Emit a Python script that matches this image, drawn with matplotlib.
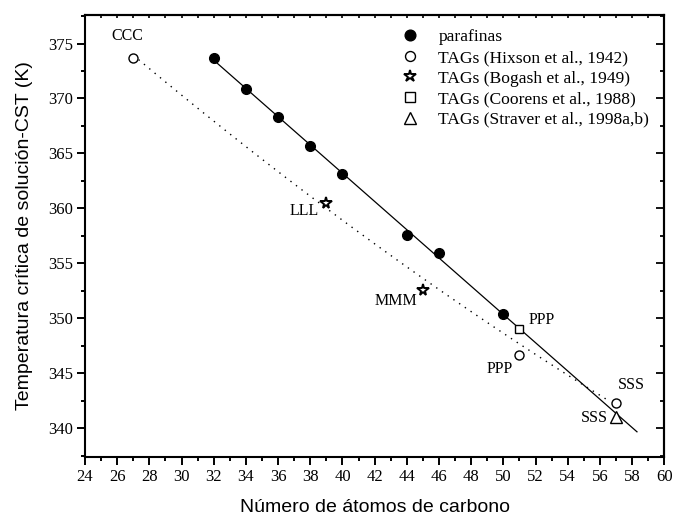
import numpy as np
import matplotlib
matplotlib.use("Agg")
import matplotlib.pyplot as plt
from matplotlib.ticker import MultipleLocator

# parafinas
paraf_c = [32, 34, 36, 38, 40, 44, 46, 50]
paraf_t = [373.7, 370.9, 368.3, 365.7, 363.1, 357.6, 355.9, 350.4]

# TAGs by source
hixson_c = [27, 51, 57]
hixson_t = [373.7, 346.7, 342.3]
bogash_c = [39, 45]
bogash_t = [360.5, 352.6]
coorens_c = [51]
coorens_t = [349.0]
straver_c = [57]
straver_t = [341.0]

# dotted TAG trend line
tag_line_c = [27.0, 32.1, 37.4, 45.7, 48.5, 56.6]
tag_line_t = [373.7, 368.1, 362.0, 352.7, 349.9, 342.6]

# point labels
labels = ["CCC", "LLL", "MMM", "PPP", "PPP", "SSS", "SSS"]
label_c = [26.6, 37.6, 43.35, 52.35, 49.76, 57.98, 55.66]
label_t = [375.7, 359.75, 351.6, 349.85, 345.4, 343.9, 340.9]

serif = ["Liberation Serif", "DejaVu Serif"]
sans = ["Liberation Sans", "DejaVu Sans"]
plt.rcParams['font.family'] = serif

fig = plt.figure(figsize=(6.75, 5.22), dpi=100)
ax = fig.add_axes([0.1259, 0.1251, 0.8583, 0.8462])

# linear fit for paraffins
p = np.polyfit(paraf_c, paraf_t, 1)
xf = np.array([32, 58.3])
ax.plot(xf, np.polyval(p, xf), color='black', lw=0.9, zorder=2)

# smooth fit through the dotted line readings
q = np.polyfit(tag_line_c, tag_line_t, 2)
xq = np.linspace(tag_line_c[0], tag_line_c[-1], 200)
ax.plot(xq, np.polyval(q, xq), color='black', lw=1.0, ls=(0, (1, 4)), zorder=2)

ax.plot(paraf_c, paraf_t, 'o', color='black', ms=7, ls='none', label='parafinas', zorder=3)
ax.plot(hixson_c, hixson_t, 'o', mfc='white', mec='black', mew=1.0, ms=6.5, ls='none',
        label='TAGs (Hixson et al., 1942)', zorder=3)
ax.plot(bogash_c, bogash_t, '*', mfc='white', mec='black', mew=1.4, ms=8.5, ls='none',
        label='TAGs (Bogash et al., 1949)', zorder=3)
ax.plot(coorens_c, coorens_t, 's', mfc='white', mec='black', mew=1.0, ms=6, ls='none',
        label='TAGs (Coorens et al., 1988)', zorder=3)
ax.plot(straver_c, straver_t, '^', mfc='white', mec='black', mew=1.0, ms=8, ls='none',
        label='TAGs (Straver et al., 1998a,b)', zorder=3)

for lab, cx, ty in zip(labels, label_c, label_t):
    ax.text(cx, ty, lab, fontsize=11.5, ha='center', va='center')

ax.set_xlim(24, 60)
ax.set_ylim(337.4, 377.6)
ax.xaxis.set_major_locator(MultipleLocator(2))
ax.xaxis.set_minor_locator(MultipleLocator(1))
ax.yaxis.set_major_locator(MultipleLocator(5))
ax.yaxis.set_minor_locator(MultipleLocator(2.5))
ax.tick_params(which='major', direction='out', length=6, width=1.4, labelsize=12, pad=2.5)
ax.tick_params(which='minor', direction='out', length=3, width=1.4)
for s in ax.spines.values():
    s.set_linewidth(1.5)

# top and right inner ticks
top = ax.secondary_xaxis('top')
top.xaxis.set_major_locator(MultipleLocator(1))
top.tick_params(direction='in', length=2.3, width=1.2, labeltop=False)
right = ax.secondary_yaxis('right')
right.yaxis.set_major_locator(MultipleLocator(5))
right.yaxis.set_minor_locator(MultipleLocator(2.5))
right.tick_params(which='major', direction='in', length=5.5, width=1.3, labelright=False)
right.tick_params(which='minor', direction='in', length=3, width=1.3)
top.spines['top'].set_linewidth(1.5)
right.spines['right'].set_linewidth(1.5)

ax.set_xlabel('Número de átomos de carbono', fontsize=14, family=sans)
ax.set_ylabel('Temperatura crítica de solución-CST (K)', fontsize=14, family=sans)
ax.xaxis.set_label_coords(0.5, -0.096)
ax.yaxis.set_label_coords(-0.09, 0.5)

ax.legend(loc='upper left', bbox_to_anchor=(0.5467, 0.968), frameon=False, fontsize=12.6,
          handlelength=1.0, handletextpad=1.1, borderpad=0, borderaxespad=0,
          labelspacing=0.25, numpoints=1, markerscale=1.1)

fig.savefig('out.png', dpi=100)
